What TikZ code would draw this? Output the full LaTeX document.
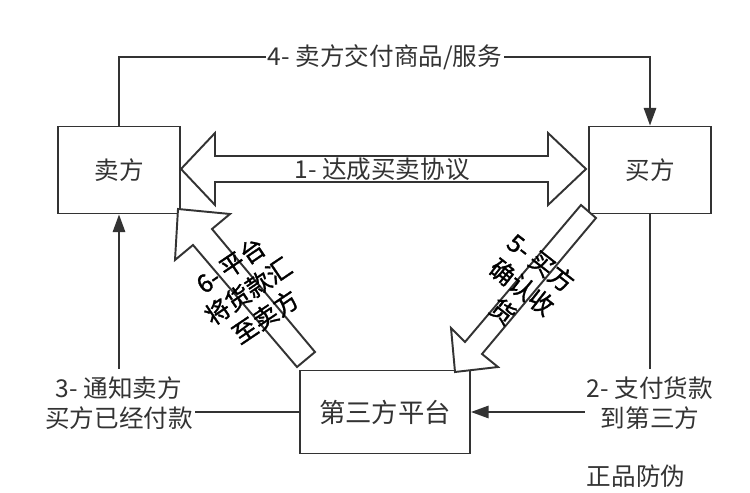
\documentclass[tikz,border=0pt]{standalone}
\usepackage{fontspec}
\setmainfont{Noto Sans CJK SC}
\newfontfamily\heavyfont[FakeBold=1.2]{Noto Sans CJK SC}
\usepackage{tikz}
\usetikzlibrary{arrows.meta,positioning}
\definecolor{ink}{HTML}{333333}
\tikzset{
  box/.style={
    shape = rectangle,
    draw = ink,
    line width = 1.1pt,
    minimum width = 2.44cm,
    minimum height = 1.74cm,
    text = ink,
    font = \fontsize{14}{17.5}\selectfont
  },
  lbl/.style={
    text = ink,
    align = center,
    inner xsep = 1pt,
    inner ysep = 4pt,
    font = \fontsize{14}{17.5}\selectfont
  },
  turned/.style={
    align = center,
    inner sep = 0pt,
    font = \heavyfont\fontsize{14}{17.6}\selectfont
  },
  link/.style={
    draw = ink,
    line width = 1.1pt
  },
  headed/.style={
    -{Triangle[length=10pt,width=7pt]}
  },
  bigarrow/.style={
    draw = ink,
    fill = white,
    line width = 1.1pt,
    line join = miter
  }
}

\begin{document}
\begin{tikzpicture}[x=0.02cm, y=-0.02cm]
  \useasboundingbox (0,0) rectangle (750,493);

  % the three parties
  \node[box] (seller) at (119,170) {卖方};
  \node[box] (buyer) at (650,170) {买方};
  \node[box, minimum width=3.4cm, minimum height=1.66cm,
        font=\fontsize{15}{18}\selectfont] (platform) at (385,412) {第三方平台};

  % step labels on the outer route
  \node[lbl, fill=white] (deliver) at (385,57) {4- 卖方交付商品/服务};
  \node[lbl] (pay) at (650,403) {2- 支付货款\\到第三方};
  \node[lbl] (notify) at (119,403) {3- 通知卖方\\买方已经付款};

  \draw[link] (seller.north) |- (deliver.west);
  \draw[link, headed] (deliver.east) -| (buyer.north);
  \draw[link] (buyer.south) -- (pay.north);
  \draw[link, headed] (pay.west |- platform.east) -- (platform.east);
  \draw[link] (platform.west) -- (notify.east |- platform.west);
  \draw[link, headed] (notify.north) -- (seller.south);

  % block arrows
  \draw[bigarrow] (181,169) -- (215,133) -- (215,156) -- (548,156) -- (548,133)
    -- (586,169) -- (548,205) -- (548,182) -- (215,182) -- (215,205) -- cycle;
  \draw[bigarrow] (178,209) -- (230,214) -- (212,229) -- (315,352) -- (297,367)
    -- (193,245) -- (175,260) -- cycle;
  \draw[bigarrow] (455,372) -- (451,328) -- (465,342) -- (581,205) -- (596,218)
    -- (482,354) -- (498,367) -- cycle;

  \node[lbl] (agree) at (382,169) {1- 达成买卖协议};
  \node[turned, rotate=-38] (confirm) at (522,287) {5- 买方\\确认收\\货};
  \node[turned, rotate=34] (payout) at (248,291) {6- 平台\\将货款汇\\至卖方};

  \node[lbl] (mark) at (636,476) {正品防伪};
\end{tikzpicture}
\end{document}
